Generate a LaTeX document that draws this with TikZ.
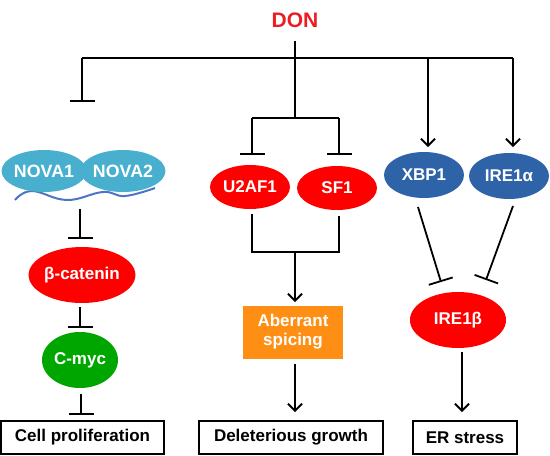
\documentclass[tikz,border=0pt]{standalone}
\usepackage{fontspec}
\setmainfont{Liberation Sans}
\usetikzlibrary{arrows.meta,shapes.geometric}
\definecolor{cyanN}{RGB}{72,176,206}
\definecolor{blueN}{RGB}{46,99,168}
\definecolor{redN}{RGB}{255,0,0}
\definecolor{greenN}{RGB}{0,166,0}
\definecolor{orangeN}{RGB}{255,142,20}
\definecolor{waveN}{RGB}{76,118,196}
\definecolor{donred}{RGB}{237,28,36}
\tikzset{
  lbl/.style={font=\fontsize{17}{19}\selectfont\bfseries},
  oval/.style={ellipse, draw=none, inner sep=0pt, text=white, lbl},
  outbox/.style={rectangle, draw=black, line width=1.3pt, inner sep=0pt, lbl},
  conn/.style={line width=1.8pt, black},
  inh/.style={conn, -{Bar[width=25pt,line width=1.8pt]}},
  act/.style={conn, -{Straight Barb[length=7pt,width=14pt,line width=1.8pt]}},
}
\begin{document}
\begin{tikzpicture}[x=1pt,y=-1pt]
\useasboundingbox (0,0) rectangle (550,456);
% wave under NOVA
\draw[waveN, line width=2pt] plot[smooth, tension=0.7] coordinates {(15,200) (32,191) (67,200) (103,192) (125,196) (155,188)};
% nodes
\node[font=\fontsize{21}{23}\selectfont\bfseries, text=donred] (don) at (295,20) {DON};
\node[oval, fill=cyanN, minimum width=81pt, minimum height=42pt, font=\fontsize{17.8}{20}\selectfont\bfseries] (nova1) at (44,171) {NOVA1};
\node[oval, fill=cyanN, minimum width=81pt, minimum height=42pt, font=\fontsize{17.8}{20}\selectfont\bfseries] (nova2) at (123,171) {NOVA2};
\node[oval, fill=redN, minimum width=96pt, minimum height=56pt] (bcat) at (82,275) {β-catenin};
\node[oval, fill=greenN, minimum width=76pt, minimum height=56pt] (cmyc) at (80,360) {C-myc};
\node[outbox, minimum width=163pt, minimum height=33pt] (cell) at (82.5,437.5) {Cell proliferation};
\node[oval, fill=redN, minimum width=80pt, minimum height=44pt] (u2af1) at (250,187) {U2AF1};
\node[oval, fill=redN, minimum width=80pt, minimum height=44pt] (sf1) at (337,188) {SF1};
\node[rectangle, fill=orangeN, text=white, lbl, align=center, minimum width=100pt, minimum height=53pt, inner sep=0pt] (aberr) at (293,332) {Aberrant\\spicing};
\node[outbox, minimum width=184pt, minimum height=33pt] (del) at (291,437.5) {Deleterious growth};
\node[oval, fill=blueN, minimum width=80pt, minimum height=46pt] (xbp1) at (424,175) {XBP1};
\node[oval, fill=blueN, minimum width=80pt, minimum height=46pt] (ire1a) at (509,176) {IRE1α};
\node[oval, fill=redN, minimum width=96pt, minimum height=56pt] (ire1b) at (458,320) {IRE1β};
\node[outbox, minimum width=104pt, minimum height=33pt] (er) at (465,437.5) {ER stress};
% junction coordinates
\coordinate (top) at (295,58);
\coordinate (lt) at (82,58);
\coordinate (rt) at (513,58);
\coordinate (xt) at (428,58);
\coordinate (novaend) at (82,102);
\coordinate (mj) at (295,118);
\coordinate (ml) at (252,118);
\coordinate (mr) at (339,118);
\coordinate (ml2) at (252,252);
\coordinate (mr2) at (339,252);
\coordinate (mj2) at (295,252);
% top tree
\draw[conn] (don.south) ++(0,10) -- (top);
\draw[conn] (lt) -- (rt);
\draw[inh] (lt) -- (novaend);
\draw[conn] (top) -- (mj);
\draw[conn] (ml) -- (mr);
\draw[inh] (ml) -- (252,155);
\draw[inh] (mr) -- (339,155);
\draw[act] (xt) -- (428,147);
\draw[act] (rt) -- (513,147);
% left chain
\draw[inh] (80,209) -- (80,239);
\draw[inh] (bcat.south) ++(-2,4) -- (80,328);
\draw[inh] (cmyc.south) ++(1,6) -- (81,415);
% middle
\draw[conn] (u2af1.south) ++(2,5) -- (ml2) -- (mr2) -- (339,216);
\draw[act] (mj2) -- (295,302);
\draw[act] (aberr.south) ++(2,5) -- (295,412);
% right
\draw[inh] (418,207) -- (441,282);
\draw[inh] (513,206) -- (486,280);
\draw[act] (ire1b.south) ++(4,4) -- (462,412);
\end{tikzpicture}
\end{document}
